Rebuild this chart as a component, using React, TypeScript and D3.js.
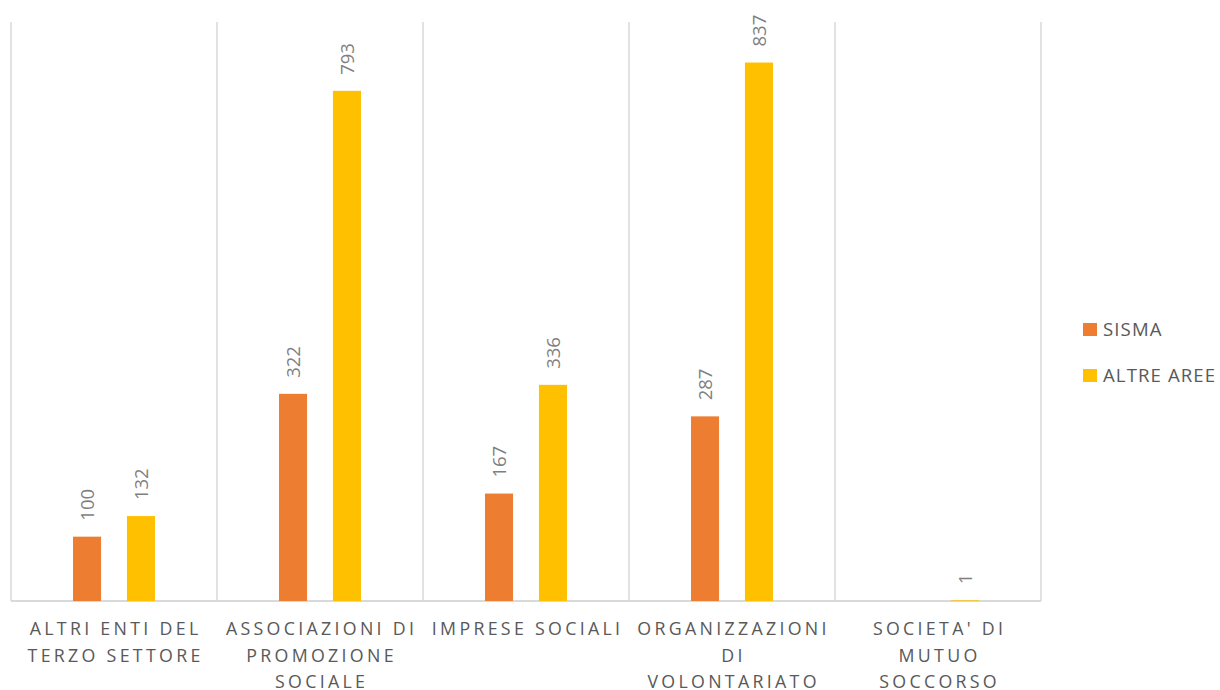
import { scaleBand, scaleLinear } from "d3";

const categories = [
    "ALTRI ENTI DEL TERZO SETTORE",
    "ASSOCIAZIONI DI PROMOZIONE SOCIALE",
    "IMPRESE SOCIALI",
    "ORGANIZZAZIONI DI VOLONTARIATO",
    "SOCIETA' DI MUTUO SOCCORSO",
];
// how each category label wraps under the axis
const categoryLines = [
    ["ALTRI ENTI DEL", "TERZO SETTORE"],
    ["ASSOCIAZIONI DI", "PROMOZIONE", "SOCIALE"],
    ["IMPRESE SOCIALI"],
    ["ORGANIZZAZIONI", "DI", "VOLONTARIATO"],
    ["SOCIETA' DI", "MUTUO", "SOCCORSO"],
];
const seriesNames = ["SISMA", "ALTRE AREE"];
const sisma = [100, 322, 167, 287, null];
const altreAree = [132, 793, 336, 837, 1];
const seriesColors = ["#ED7D31", "#FFC000"];

export default function App() {
    const width = 1220
    const height = 690
    const left = 11, right = 1041, top = 22, bottom = 601

    const x = scaleBand().domain(categories).range([left, right])
    const inner = scaleBand()
        .domain(seriesNames)
        .range([0, x.bandwidth()])
        .paddingInner(0.48)
        .paddingOuter(1.15)
        .align(0.5)
    const y = scaleLinear().domain([0, 900]).range([bottom, top])

    const values = [sisma, altreAree]
    const font = "'Open Sans', 'Noto Sans', sans-serif"

    return (
        <svg width={width} height={height} viewBox={`0 0 ${width} ${height}`}
            style={{ position: "fixed", left: 0, top: 0, background: "#fff" }}>
            {/* category separators */}
            {[...categories.map(c => x(c)!), right].map((gx, i) => (
                <line key={i} x1={gx} x2={gx} y1={top} y2={bottom} stroke="#d9d9d9" strokeWidth={1.5} />
            ))}
            <line x1={left} x2={right} y1={bottom} y2={bottom} stroke="#d9d9d9" strokeWidth={2} />

            {values.map((vals, si) => (
                <g key={si}>
                    {vals.map((v, ci) => {
                        if (v == null) return null
                        const bx = x(categories[ci])! + inner(seriesNames[si])!
                        const bw = inner.bandwidth()
                        const by = y(v)
                        const cx = bx + bw / 2
                        return (
                            <g key={ci}>
                                <rect x={bx} y={by} width={bw} height={bottom - by} fill={seriesColors[si]} />
                                <text transform={`translate(${cx},${by - 16}) rotate(-90)`} dy="0.36em"
                                    fontFamily={font} fontSize={18.5} fill="#7f7f7f">{v}</text>
                            </g>
                        )
                    })}
                </g>
            ))}

            {categoryLines.map((lines, ci) => (
                <text key={ci} fontFamily={font} fontSize={17.8} fill="#595959" textAnchor="middle"
                    letterSpacing={3.3}>
                    {lines.map((ln, li) => (
                        <tspan key={li} x={x(categories[ci])! + x.bandwidth() / 2 + 1.6} y={635.3 + li * 26.3}>{ln}</tspan>
                    ))}
                </text>
            ))}

            {seriesNames.map((s, i) => (
                <g key={s} transform={`translate(1083,${323 + i * 46})`}>
                    <rect width={14} height={13} fill={seriesColors[i]} />
                    <text x={20} y={13} fontFamily={font} fontSize={18.6} fill="#595959" letterSpacing={1.1}>{s}</text>
                </g>
            ))}
        </svg>
    )
}
